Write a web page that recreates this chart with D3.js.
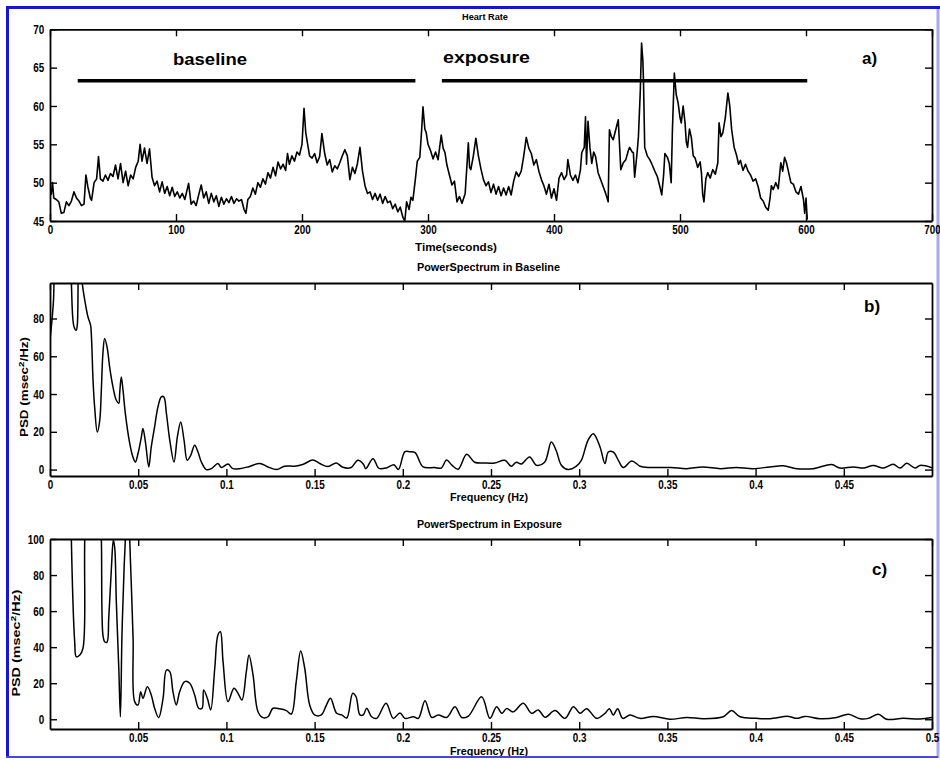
<!DOCTYPE html>
<html>
<head>
<meta charset="utf-8">
<script src="https://cdn.jsdelivr.net/npm/d3@7"></script>
<style>
body { margin: 0; background: #fff; }
svg { display: block; }
text { font-family: "Liberation Sans", Arial, sans-serif; fill: #000; }
</style>
</head>
<body>
<svg id="chart"></svg>
<script>
// data
const heartRate = [
  [0,49],[1,48.5],[2,50],[3,48],[5,47.8],[7,47.5],[9,46],[11,46.1],[13,47.5],[15,47],[17,47.6],[19,48.8],
  [21,48],[23,47.6],[25,47],[27,47.2],[28.5,51],[30,49.5],[32,48],[33,47.7],[35,50],[37,50.5],[38.5,53.4],
  [40,50.5],[42,50.2],[44,51],[46,50.3],[48,51.2],[50,50.8],[52,52.3],[54,50.5],[56,52.5],[58,50],[60,51.5],
  [62,49.6],[64,51],[66,50.5],[68,52],[70,52.8],[71.5,55],[73,52.8],[75,54.5],[77,52.5],[79,54.4],[81,50.7],
  [83,49.6],[85,50.2],[87,48.8],[89,50.1],[91,48.6],[93,49.5],[95,48.3],[97,49.4],[99,48.2],[101,48.8],
  [103,48],[105,48.6],[107,47.8],[110,49.9],[112,47.2],[114,47.6],[116,47],[118,48.4],[120,49.7],[122,48],
  [124,48.8],[126,47.3],[128,48.6],[130,47.5],[132,48.3],[134,46.9],[136,48.1],[138,47.2],[140,47.9],
  [142,47.4],[144,48.2],[146,47.3],[148,47.9],[150,47.6],[152,47.8],[154,46.5],[155.5,46],[157,47.8],
  [159,48.2],[161,49.3],[163,48.5],[165,50],[167,49.4],[169,50.5],[171,49.8],[173,51.3],[175,50.6],[177,52],
  [179,50.9],[181,52.7],[183,51.8],[185,52.4],[187,51.6],[188.5,53.8],[190,52.4],[192,53.5],[194,52.8],
  [196,54],[198,53.6],[200,55],[201.6,59.7],[203,56.5],[204.5,55],[206,53.5],[208,53.2],[210,53.8],
  [212,52.6],[214,53.4],[215.8,56.4],[218,53.8],[220,52.3],[222,53],[224,51.4],[226,52.2],[228,51.8],
  [230,52.6],[232,53.5],[234,54.3],[236,53.5],[238,50.4],[240,52],[242,51.2],[244,52.5],[246,54.6],
  [248,51.5],[250,49.6],[252,48.6],[254,48.8],[256,47.8],[258,48.6],[260,47.7],[262,48.5],[264,47.3],
  [266,48.2],[268,47.4],[270,47.6],[272,46.6],[274,47.2],[276,46.2],[278,46.8],[280,45.5],[281.6,45],
  [283,47.5],[285,46.5],[286.5,48.1],[288,47.7],[290,50.5],[291.5,52.8],[293.5,53.3],[295,57],[296,59.9],
  [297.5,57],[298.6,56.5],[300,55],[302,54.2],[304,53.1],[306,54],[308,53],[310.5,56.2],[312,54.5],
  [313.5,53.9],[315,52.3],[317,51],[319,49.7],[321,50.2],[323,47.5],[325,48.2],[327,47.3],[329.5,48.6],
  [331,52.5],[332,55.2],[333,52],[334,51.7],[336,53.5],[338,55.8],[340,53.5],[342,51.8],[344,50.4],
  [346,49.6],[348,50.1],[350,48.7],[352,49.8],[354,48.5],[356,49.5],[358,48.3],[360,49.3],[362,48.4],
  [364,49.5],[366,48.4],[368,50.2],[370,51.4],[372,50.8],[374,51.5],[376,53.5],[378,55.9],[380,54.5],
  [382,53.8],[384,52.3],[386,53],[388,51.5],[390,50.4],[392,49.6],[394,48.5],[396,49.8],[398,48],
  [400,49.2],[402,47.7],[404,50.6],[406,51.3],[408,50.4],[410,51],[411,53],[413,51],[415,50.3],[417,51],
  [419,50],[421,51.7],[422,53.9],[424,54.6],[425,58.6],[425.8,52.4],[427,58],[428.5,54.6],[430,52.5],
  [431.5,54],[433,53.4],[435,51.3],[437,50.4],[439,49.5],[441,48.6],[443,47.5],[444,56.9],[445.5,56],
  [447,55.6],[449,56.9],[451,58.2],[453,51.7],[455,52.6],[457,53],[459,54.2],[460,54.6],[462,54],
  [463,53.9],[464,50.7],[466,54],[467,56],[468.5,62],[469.5,68.2],[470.5,66],[471,63.4],[472,54.6],
  [474,53.5],[476,53],[478,52.3],[480,51.5],[482,50.8],[484,49.5],[485.5,48.4],[487,51],[488,53.8],
  [490,53.3],[491.5,52.5],[493,50],[494,57],[495.5,64.3],[497,61.5],[498.5,60.4],[500,58.5],[501,57.8],
  [502.5,60],[504,57.8],[505,55.3],[506,54.6],[507.5,57],[509,55.9],[510.5,53.5],[512,53.2],[514,52],
  [516,52.7],[517,51.3],[518,48.5],[519,47.5],[520.5,50.5],[522,51.3],[524,50.6],[526,51.7],[528,51.1],
  [530,52.6],[531,57.8],[532.5,56],[534,56.5],[536,58.5],[538,61.7],[539.5,60],[541,56.9],[543,54.6],
  [545,53.5],[546.5,52.4],[548,52.9],[550,51.6],[552,52.4],[554,51.5],[556,51],[558,50.2],[560,50.5],
  [562,49.5],[564,48],[566,47.6],[568,46.8],[570,46.4],[571.5,48],[572.5,49.6],[574,49.1],[576,50],
  [578,49.2],[580,52.6],[581.5,51.5],[583,53.3],[584.5,52.6],[586,51.5],[588,50],[590,49.8],[592,48.8],
  [594,48.5],[596,49.5],[598,47.8],[599,46],[600,48],[601,45.2]
];
const baselineSpan = [22, 290];
const exposureSpan = [311, 601];
const spanLevel = 63.3;

const psdBaseline = [
  [0,68.6],[0.0012,80],[0.002,90],[0.003,130],[0.006,160],[0.009,140],[0.0115,110],[0.0121,99],
  [0.0136,75.6],[0.0149,73.8],[0.0155,77],[0.0163,110],[0.0172,115],[0.0178,105],[0.0183,98.6],
  [0.0197,89.7],[0.0215,80.9],[0.023,76.5],[0.0235,70.3],[0.0244,47.3],[0.0253,33.2],[0.0268,19.9],
  [0.0282,26.1],[0.0291,42],[0.03,61.6],[0.031,69.4],[0.0325,64.1],[0.0338,54.4],[0.0357,43.8],
  [0.0376,36.7],[0.039,35.1],[0.0395,40.4],[0.0404,49],[0.0414,42],[0.0427,29.8],[0.0452,13.9],
  [0.047,6.7],[0.0484,4],[0.0499,8.5],[0.0518,17.3],[0.0527,21.7],[0.0542,13.9],[0.056,1.4],
  [0.0574,12],[0.0593,22.6],[0.0612,33.2],[0.0631,38.5],[0.0645,38.5],[0.066,29.7],[0.0679,15.5],
  [0.0703,4],[0.0722,17.3],[0.0741,25.2],[0.076,15.5],[0.0778,4.9],[0.0798,7.6],[0.082,12.9],
  [0.0839,9.3],[0.0858,4],[0.0886,0],[0.0915,0.5],[0.0952,3.2],[0.0971,1.1],[0.1009,2.9],[0.1037,0.5],
  [0.1075,0.5],[0.1122,1.4],[0.1189,3.2],[0.1236,1.4],[0.1285,0],[0.133,1.8],[0.1387,1.8],[0.1436,2.8],
  [0.149,5.1],[0.153,3.2],[0.1576,1.6],[0.1623,3.5],[0.166,1.2],[0.1707,1.1],[0.1745,4.9],[0.1776,3],
  [0.179,0.5],[0.1831,5.8],[0.1865,0.6],[0.191,1],[0.195,2.6],[0.1975,0],[0.2012,9.5],[0.204,9.5],
  [0.207,9],[0.2115,1.4],[0.218,1.1],[0.2218,0.8],[0.2248,5.1],[0.2278,2.4],[0.2314,0.2],[0.2362,8.1],
  [0.2407,3.9],[0.2464,3.5],[0.2521,3.5],[0.2578,4.9],[0.2615,1.8],[0.2643,3.9],[0.2672,3],[0.2719,6.7],
  [0.2757,2.3],[0.2804,3.9],[0.2842,14.6],[0.287,10],[0.2899,2.3],[0.2937,0],[0.2984,1.8],[0.3012,4.9],
  [0.305,15.5],[0.308,19],[0.3118,12],[0.3146,3.2],[0.3165,9.3],[0.3193,9.3],[0.3222,4.9],[0.325,1.1],
  [0.3298,4.6],[0.3345,1.8],[0.34,1.1],[0.352,1.1],[0.361,0.5],[0.37,1.4],[0.38,0.5],[0.389,1.1],
  [0.3986,0.5],[0.408,1.4],[0.4157,2],[0.4233,0.5],[0.4327,0.5],[0.4431,2.7],[0.4478,0.8],[0.4554,1.4],
  [0.4611,0.8],[0.4667,2.2],[0.4724,0.8],[0.478,2.8],[0.4819,0.8],[0.4857,3.3],[0.4904,0.8],[0.4932,2.2],
  [0.5,1]
];

const psdExposure = [
  [0.002,200],[0.008,250],[0.0115,160],[0.0121,100],[0.014,43],[0.0149,34.7],[0.0168,35.5],[0.0187,39.4],
  [0.0197,100],[0.022,180],[0.026,170],[0.0285,110],[0.0291,100],[0.03,46.8],[0.031,43],[0.0323,42.7],
  [0.0333,56],[0.0348,83.7],[0.0359,99.5],[0.0367,95],[0.0376,65.2],[0.039,28.3],[0.0399,1.4],
  [0.0408,46.8],[0.042,83.7],[0.0427,100],[0.0435,140],[0.0445,130],[0.0452,100],[0.0461,74.5],
  [0.0471,45],[0.048,9.8],[0.0499,7.9],[0.0514,15.3],[0.0527,11.6],[0.0552,18],[0.0574,13.5],
  [0.0593,6.1],[0.0616,0.9],[0.0641,11.6],[0.066,27.3],[0.0679,26.4],[0.0697,15.3],[0.0716,7.9],
  [0.0735,15.3],[0.0764,20.9],[0.0792,20],[0.082,13.5],[0.0843,6.1],[0.0862,6.1],[0.0871,16.3],
  [0.0892,11.6],[0.0911,5.2],[0.0934,28.3],[0.0952,46.8],[0.0966,48.6],[0.0981,32],[0.1009,9.8],
  [0.1043,17.2],[0.1066,14.4],[0.1088,10.7],[0.1113,26.4],[0.1128,35.7],[0.1151,24.6],[0.1179,4.2],
  [0.1207,0.9],[0.1236,1.4],[0.1264,6.1],[0.1302,5.8],[0.134,4.8],[0.1368,2.9],[0.1396,20.9],
  [0.1421,37.9],[0.1444,28.3],[0.1472,7.9],[0.15,2.4],[0.1538,2.4],[0.1567,7.9],[0.159,11.6],
  [0.1625,3.3],[0.1654,2.4],[0.1682,0.7],[0.1716,14.4],[0.1735,12.5],[0.1757,2.4],[0.1776,2.4],
  [0.1795,6.1],[0.1823,1.4],[0.1852,0.5],[0.1905,8.9],[0.1946,0.5],[0.1984,3.5],[0.2012,0.5],
  [0.206,1.4],[0.2088,0.5],[0.2126,10.3],[0.2164,1],[0.2201,2.4],[0.2249,1],[0.2296,7],[0.2334,1],
  [0.2372,1.8],[0.2447,12.5],[0.2494,0.5],[0.2532,7],[0.2561,3.3],[0.2589,5.9],[0.2626,4.1],
  [0.2683,8.9],[0.273,3.3],[0.2768,5.2],[0.2806,1.1],[0.2863,4.8],[0.292,0.5],[0.2967,7],[0.3005,3.3],
  [0.3042,5.9],[0.3099,0.5],[0.3146,3.3],[0.3171,5.9],[0.3193,2.4],[0.3218,5.9],[0.3247,0.5],
  [0.3288,2.4],[0.3345,0.5],[0.342,1.6],[0.3515,0],[0.361,1],[0.3704,0.3],[0.3817,1.4],[0.3864,4.8],
  [0.3912,1.4],[0.4006,0.5],[0.4082,0.3],[0.4186,1.6],[0.4233,0.5],[0.428,1.6],[0.4365,0.3],[0.446,1],
  [0.4526,2.8],[0.4592,0.3],[0.4639,0.5],[0.4696,2.8],[0.4743,0],[0.4837,0.5],[0.4932,0.2],[0.5,1]
];

const hrTicksX = [0, 100, 200, 300, 400, 500, 600, 700];
const hrTicksY = [45, 50, 55, 60, 65, 70];
const psdTicksXb = [0, 0.05, 0.1, 0.15, 0.2, 0.25, 0.3, 0.35, 0.4, 0.45];
const psdTicksXc = [0.05, 0.1, 0.15, 0.2, 0.25, 0.3, 0.35, 0.4, 0.45, 0.5];
const psdTicksYb = [0, 20, 40, 60, 80];
const psdTicksYc = [0, 20, 40, 60, 80, 100];

// layout
const width = 940, height = 760;
const x0 = 50, x1 = 932;

const svg = d3.select("#chart")
    .attr("width", width)
    .attr("height", height);

svg.append("rect").attr("width", width).attr("height", height).attr("fill", "#fff");

// light right-hand edge of the frame sits under the labels
svg.append("line").attr("x1", 938).attr("y1", 6).attr("x2", 938).attr("y2", 758)
    .attr("stroke", "#a8a8f0").attr("stroke-width", 3);

let clipId = 0;

function panel(cfg) {
    const x = d3.scaleLinear().domain(cfg.xDomain).range([x0, x1]);
    const y = d3.scaleLinear().domain(cfg.yDomain).range([cfg.bottom, cfg.top]);
    const g = svg.append("g");

    const id = "clip" + (clipId++);
    g.append("clipPath").attr("id", id)
        .append("rect")
        .attr("x", x0).attr("y", cfg.top)
        .attr("width", x1 - x0).attr("height", cfg.bottom - cfg.top);

    const plot = g.append("g").attr("clip-path", `url(#${id})`);
    plot.append("path")
        .datum(cfg.data)
        .attr("fill", "none")
        .attr("stroke", "#000")
        .attr("stroke-width", cfg.lineWidth || 1.5)
        .attr("stroke-linejoin", "round")
        .attr("d", d3.line().x(d => x(d[0])).y(d => y(d[1])).curve(cfg.curve || d3.curveLinear));

    // axes, ticks pointing inward on all sides
    const styleAxis = sel => {
        sel.select(".domain").attr("stroke", "#000").attr("stroke-width", 1.8);
        sel.selectAll(".tick line").attr("stroke", "#000").attr("stroke-width", 1.4);
        sel.selectAll("text")
            .attr("font-size", 13)
            .attr("font-weight", "bold")
            .attr("fill", "#000")
            .attr("font-family", '"Liberation Sans", Arial, sans-serif');
    };

    g.append("g")
        .attr("transform", `translate(0,${cfg.bottom})`)
        .call(d3.axisBottom(x).tickValues(cfg.xTicks).tickFormat(cfg.xFmt)
            .tickSize(-7).tickSizeOuter(0).tickPadding(3.5))
        .call(styleAxis)
        .call(s => s.selectAll("text").attr("transform", "scale(0.76,1)"));

    g.append("g")
        .attr("transform", `translate(${x0},0)`)
        .call(d3.axisLeft(y).tickValues(cfg.yTicks).tickSize(-7).tickSizeOuter(0).tickPadding(7.5))
        .call(styleAxis)
        .call(s => s.selectAll("text").attr("transform", "scale(0.76,1)"));

    g.append("g")
        .attr("transform", `translate(0,${cfg.top})`)
        .call(d3.axisTop(x).tickValues(cfg.xTicks).tickFormat("").tickSize(-7).tickSizeOuter(0))
        .call(styleAxis);

    g.append("g")
        .attr("transform", `translate(${x1},0)`)
        .call(d3.axisRight(y).tickValues(cfg.yTicks).tickFormat("").tickSize(-7).tickSizeOuter(0))
        .call(styleAxis);

    return { x, y, g };
}

function label(txt, x, y, size, len, opts = {}) {
    const t = svg.append("text")
        .attr("x", x).attr("y", y)
        .attr("font-size", size)
        .attr("font-weight", opts.weight || "bold")
        .attr("text-anchor", opts.anchor || "middle")
        .text(txt);
    if (len) t.attr("textLength", len).attr("lengthAdjust", "spacingAndGlyphs");
    return t;
}

function psdLabel(cx, cy, len) {
    const t = svg.append("text")
        .attr("transform", `translate(${cx},${cy}) rotate(-90)`)
        .attr("text-anchor", "middle")
        .attr("font-size", 11)
        .attr("font-weight", "bold")
        .attr("textLength", len)
        .attr("lengthAdjust", "spacingAndGlyphs");
    t.append("tspan").text("PSD (msec");
    t.append("tspan").attr("dy", -4).attr("font-size", 8).text("2");
    t.append("tspan").attr("dy", 4).text("/Hz)");
}

// a) heart rate
const a = panel({
    xDomain: [0, 700], yDomain: [45, 70], top: 29.3, bottom: 221,
    xTicks: hrTicksX, yTicks: hrTicksY, xFmt: d3.format("d"), data: heartRate, lineWidth: 1.6
});
[baselineSpan, exposureSpan].forEach(s => {
    a.g.append("line")
        .attr("x1", a.x(s[0])).attr("x2", a.x(s[1]))
        .attr("y1", a.y(spanLevel)).attr("y2", a.y(spanLevel))
        .attr("stroke", "#000").attr("stroke-width", 3.5);
});
label("Heart Rate", 485, 20, 9.5, 46);
label("Time(seconds)", 456, 251, 10.5, 82);
label("baseline", 173, 65, 17, 74, { anchor: "start" });
label("exposure", 443, 63, 17, 87, { anchor: "start" });
label("a)", 862, 64, 17, null, { anchor: "start" });

// b) baseline spectrum
panel({
    xDomain: [0, 0.5], yDomain: [-3.4, 98.8], top: 283, bottom: 476,
    xTicks: psdTicksXb, yTicks: psdTicksYb, xFmt: d => d === 0 ? "0" : String(d),
    data: psdBaseline, curve: d3.curveCatmullRom
});
label("PowerSpectrum in Baseline", 488.5, 271, 10.5, 143);
label("Frequency (Hz)", 489, 501, 10.5, 78);
label("b)", 864, 312, 17, null, { anchor: "start" });
psdLabel(28, 387, 100);

// c) exposure spectrum
panel({
    xDomain: [0, 0.5], yDomain: [-5.4, 100], top: 539, bottom: 729,
    xTicks: psdTicksXc, yTicks: psdTicksYc, xFmt: d => String(d),
    data: psdExposure, curve: d3.curveCatmullRom
});
label("PowerSpectrum in Exposure", 489.5, 528, 10.5, 145);
label("Frequency (Hz)", 489, 755, 10.5, 78);
label("c)", 872, 575, 17, null, { anchor: "start" });
psdLabel(20, 643, 107);

// frame around the figure
svg.append("rect").attr("x", 0).attr("y", 758).attr("width", width).attr("height", 2).attr("fill", "#fff");
svg.append("line").attr("x1", 7.5).attr("y1", 6).attr("x2", 7.5).attr("y2", 758)
    .attr("stroke", "#1414dc").attr("stroke-width", 3);
svg.append("line").attr("x1", 6).attr("y1", 7.5).attr("x2", 940).attr("y2", 7.5)
    .attr("stroke", "#1414dc").attr("stroke-width", 3);
svg.append("line").attr("x1", 6).attr("y1", 757).attr("x2", 938).attr("y2", 757)
    .attr("stroke", "#4646dc").attr("stroke-width", 2);
</script>
</body>
</html>
